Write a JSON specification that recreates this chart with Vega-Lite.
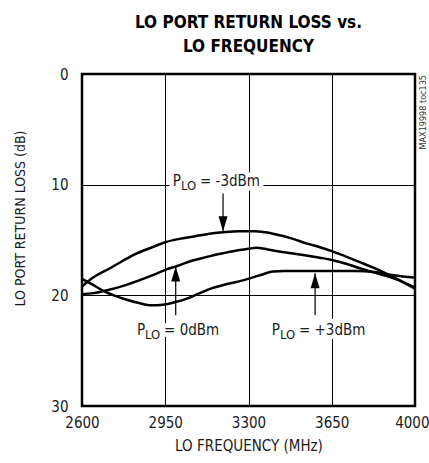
{
  "$schema": "https://vega.github.io/schema/vega-lite/v6.json",
  "width": 333,
  "height": 332,
  "autosize": "none",
  "padding": {"left": 82, "top": 74, "right": 14, "bottom": 57},
  "background": "white",
  "config": {
    "view": {"stroke": "black", "strokeWidth": 2.5},
    "font": "DejaVu Sans Condensed, Liberation Sans, sans-serif"
  },
  "title": {
    "text": ["LO PORT RETURN LOSS vs.", "LO FREQUENCY"],
    "font": "DejaVu Sans Condensed, Liberation Sans, sans-serif",
    "fontSize": 17,
    "fontWeight": "bold",
    "anchor": "middle",
    "baseline": "bottom",
    "lineHeight": 24,
    "offset": -6,
    "color": "black"
  },
  "datasets": {
    "curves": [
      {"series": "-3dBm", "freq": 2600, "rl": 19.2},
      {"series": "-3dBm", "freq": 2650, "rl": 18.35},
      {"series": "-3dBm", "freq": 2714, "rl": 17.6},
      {"series": "-3dBm", "freq": 2770, "rl": 16.9},
      {"series": "-3dBm", "freq": 2826, "rl": 16.25},
      {"series": "-3dBm", "freq": 2890, "rl": 15.7},
      {"series": "-3dBm", "freq": 2950, "rl": 15.2},
      {"series": "-3dBm", "freq": 3010, "rl": 14.9},
      {"series": "-3dBm", "freq": 3065, "rl": 14.7},
      {"series": "-3dBm", "freq": 3130, "rl": 14.45},
      {"series": "-3dBm", "freq": 3192, "rl": 14.3},
      {"series": "-3dBm", "freq": 3260, "rl": 14.2},
      {"series": "-3dBm", "freq": 3325, "rl": 14.2},
      {"series": "-3dBm", "freq": 3370, "rl": 14.3},
      {"series": "-3dBm", "freq": 3417, "rl": 14.5},
      {"series": "-3dBm", "freq": 3480, "rl": 14.85},
      {"series": "-3dBm", "freq": 3543, "rl": 15.3},
      {"series": "-3dBm", "freq": 3600, "rl": 15.65},
      {"series": "-3dBm", "freq": 3650, "rl": 16.0},
      {"series": "-3dBm", "freq": 3710, "rl": 16.5},
      {"series": "-3dBm", "freq": 3768, "rl": 17.0},
      {"series": "-3dBm", "freq": 3830, "rl": 17.55},
      {"series": "-3dBm", "freq": 3895, "rl": 18.2},
      {"series": "-3dBm", "freq": 3950, "rl": 18.8},
      {"series": "-3dBm", "freq": 4000, "rl": 19.4},
      {"series": "0dBm", "freq": 2600, "rl": 19.9},
      {"series": "0dBm", "freq": 2650, "rl": 19.8},
      {"series": "0dBm", "freq": 2714, "rl": 19.5},
      {"series": "0dBm", "freq": 2780, "rl": 19.1},
      {"series": "0dBm", "freq": 2840, "rl": 18.65},
      {"series": "0dBm", "freq": 2900, "rl": 18.15},
      {"series": "0dBm", "freq": 2950, "rl": 17.7},
      {"series": "0dBm", "freq": 3000, "rl": 17.35},
      {"series": "0dBm", "freq": 3065, "rl": 16.85},
      {"series": "0dBm", "freq": 3130, "rl": 16.5},
      {"series": "0dBm", "freq": 3192, "rl": 16.2},
      {"series": "0dBm", "freq": 3250, "rl": 15.95},
      {"series": "0dBm", "freq": 3300, "rl": 15.8},
      {"series": "0dBm", "freq": 3332, "rl": 15.7},
      {"series": "0dBm", "freq": 3380, "rl": 15.85},
      {"series": "0dBm", "freq": 3417, "rl": 16.0},
      {"series": "0dBm", "freq": 3480, "rl": 16.2},
      {"series": "0dBm", "freq": 3543, "rl": 16.4},
      {"series": "0dBm", "freq": 3600, "rl": 16.6},
      {"series": "0dBm", "freq": 3650, "rl": 16.8},
      {"series": "0dBm", "freq": 3710, "rl": 17.15},
      {"series": "0dBm", "freq": 3768, "rl": 17.55},
      {"series": "0dBm", "freq": 3830, "rl": 17.95},
      {"series": "0dBm", "freq": 3895, "rl": 18.35},
      {"series": "0dBm", "freq": 3950, "rl": 18.8},
      {"series": "0dBm", "freq": 4000, "rl": 19.3},
      {"series": "+3dBm", "freq": 2600, "rl": 18.5},
      {"series": "+3dBm", "freq": 2650, "rl": 19.1},
      {"series": "+3dBm", "freq": 2690, "rl": 19.6},
      {"series": "+3dBm", "freq": 2740, "rl": 20.05},
      {"series": "+3dBm", "freq": 2788, "rl": 20.4},
      {"series": "+3dBm", "freq": 2840, "rl": 20.7},
      {"series": "+3dBm", "freq": 2893, "rl": 20.9},
      {"series": "+3dBm", "freq": 2940, "rl": 20.85},
      {"series": "+3dBm", "freq": 2985, "rl": 20.65},
      {"series": "+3dBm", "freq": 3041, "rl": 20.3},
      {"series": "+3dBm", "freq": 3090, "rl": 19.85},
      {"series": "+3dBm", "freq": 3147, "rl": 19.35},
      {"series": "+3dBm", "freq": 3206, "rl": 19.0},
      {"series": "+3dBm", "freq": 3276, "rl": 18.65},
      {"series": "+3dBm", "freq": 3346, "rl": 18.2},
      {"series": "+3dBm", "freq": 3403, "rl": 17.85},
      {"series": "+3dBm", "freq": 3450, "rl": 17.8},
      {"series": "+3dBm", "freq": 3550, "rl": 17.8},
      {"series": "+3dBm", "freq": 3650, "rl": 17.8},
      {"series": "+3dBm", "freq": 3750, "rl": 17.8},
      {"series": "+3dBm", "freq": 3830, "rl": 17.9},
      {"series": "+3dBm", "freq": 3895, "rl": 18.15},
      {"series": "+3dBm", "freq": 3950, "rl": 18.3},
      {"series": "+3dBm", "freq": 4000, "rl": 18.4}
    ],
    "labels": [
      {"freq": 3016, "rl": 10.12, "p": "P", "sub": "LO", "rest": "= -3dBm"},
      {"freq": 2865, "rl": 23.6, "p": "P", "sub": "LO", "rest": "= 0dBm"},
      {"freq": 3432, "rl": 23.6, "p": "P", "sub": "LO", "rest": "= +3dBm"}
    ],
    "arrows": [
      {"freq": 3193, "rl": 14.2, "rl2": 10.8, "dir": "down"},
      {"freq": 2994, "rl": 17.4, "rl2": 21.8, "dir": "up"},
      {"freq": 3580, "rl": 18.0, "rl2": 21.8, "dir": "up"}
    ],
    "notes": [
      {"freq": 4000, "rl": 0, "note": "MAX19998 toc135"}
    ]
  },
  "encoding": {
    "x": {
      "field": "freq",
      "type": "quantitative",
      "scale": {"domain": [2600, 4000], "nice": false, "zero": false},
      "axis": {
        "values": [2600, 2950, 3300, 3650, 4000],
        "format": "d",
        "title": "LO FREQUENCY (MHz)",
        "domain": false,
        "ticks": false,
        "labelFlush": false,
        "labelAlign": {"condition": {"test": "datum.value == 4000", "value": "right"}, "value": "center"},
        "labelOffset": {"condition": {"test": "datum.value == 4000", "value": 14}, "value": 0},
        "labelFontSize": 15,
        "labelColor": "#1a1a1a",
        "labelPadding": 9,
        "grid": true,
        "gridColor": "black",
        "gridWidth": 1,
        "gridOpacity": 1,
        "titleFontSize": 15,
        "titleFontWeight": "normal",
        "titleColor": "#1a1a1a",
        "titlePadding": 8
      }
    },
    "y": {
      "field": "rl",
      "type": "quantitative",
      "scale": {"domain": [0, 30], "reverse": true, "nice": false, "zero": false},
      "axis": {
        "values": [0, 10, 20, 30],
        "title": "LO PORT RETURN LOSS (dB)",
        "domain": false,
        "ticks": false,
        "labelFontSize": 15,
        "labelColor": "#1a1a1a",
        "labelPadding": 14,
        "grid": true,
        "gridColor": "black",
        "gridWidth": 1,
        "gridOpacity": 1,
        "titleFontSize": 14,
        "titleFontWeight": "normal",
        "titleColor": "#1a1a1a",
        "titleX": -62,
        "titleY": 144,
        "titleAlign": "center",
        "titleBaseline": "middle"
      }
    }
  },
  "layer": [
    {
      "data": {"name": "curves"},
      "mark": {"type": "line", "color": "black", "strokeWidth": 2.5, "interpolate": "monotone"},
      "encoding": {"detail": {"field": "series", "type": "nominal"}}
    },
    {
      "data": {"name": "arrows"},
      "mark": {"type": "rule", "color": "black", "strokeWidth": 1.2},
      "encoding": {"y2": {"field": "rl2"}}
    },
    {
      "data": {"name": "arrows"},
      "mark": {"type": "point", "filled": true, "color": "black", "opacity": 1, "size": 900, "strokeWidth": 0},
      "encoding": {
        "shape": {
          "field": "dir",
          "type": "nominal",
          "scale": {"domain": ["down", "up"], "range": ["M0,0L-0.3,-1L0.3,-1Z", "M0,0L-0.3,1L0.3,1Z"]},
          "legend": null
        }
      }
    },
    {
      "data": {"name": "labels"},
      "mark": {"type": "text", "align": "right", "baseline": "alphabetic", "fontSize": 15, "fill": "white", "stroke": "white", "strokeWidth": 9, "strokeJoin": "round"},
      "encoding": {"text": {"field": "p"}}
    },
    {
      "data": {"name": "labels"},
      "mark": {"type": "text", "align": "left", "baseline": "alphabetic", "fontSize": 13, "dy": 4, "fill": "white", "stroke": "white", "strokeWidth": 9, "strokeJoin": "round"},
      "encoding": {"text": {"field": "sub"}}
    },
    {
      "data": {"name": "labels"},
      "mark": {"type": "text", "align": "left", "baseline": "alphabetic", "fontSize": 15, "dx": 19, "fill": "white", "stroke": "white", "strokeWidth": 9, "strokeJoin": "round"},
      "encoding": {"text": {"field": "rest"}}
    },
    {
      "data": {"name": "labels"},
      "mark": {"type": "text", "align": "right", "baseline": "alphabetic", "fontSize": 15, "color": "#1a1a1a"},
      "encoding": {"text": {"field": "p"}}
    },
    {
      "data": {"name": "labels"},
      "mark": {"type": "text", "align": "left", "baseline": "alphabetic", "fontSize": 13, "dy": 4, "color": "#1a1a1a"},
      "encoding": {"text": {"field": "sub"}}
    },
    {
      "data": {"name": "labels"},
      "mark": {"type": "text", "align": "left", "baseline": "alphabetic", "fontSize": 15, "dx": 19, "color": "#1a1a1a"},
      "encoding": {"text": {"field": "rest"}}
    },
    {
      "data": {"name": "notes"},
      "mark": {"type": "text", "angle": 270, "align": "right", "baseline": "middle", "fontSize": 9, "xOffset": 8, "yOffset": 1, "color": "#333"},
      "encoding": {"text": {"field": "note"}}
    }
  ]
}
